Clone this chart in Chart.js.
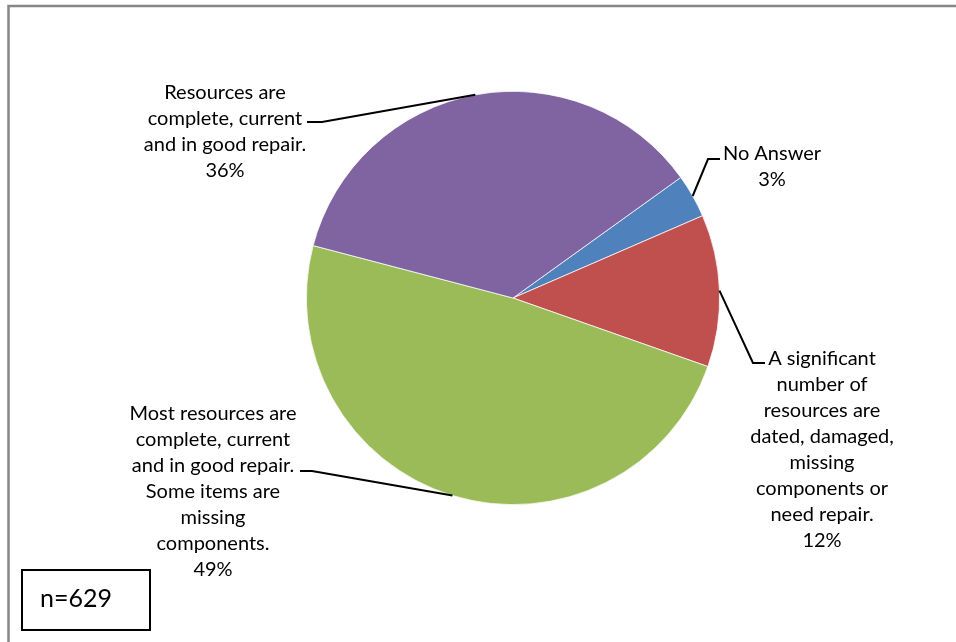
<!DOCTYPE html>
<html>
<head>
<meta charset="utf-8">
<title>Resources condition</title>
<script src="https://cdn.jsdelivr.net/npm/chart.js@4.4.1/dist/chart.umd.min.js"></script>
<style>
  html, body { margin: 0; padding: 0; background: #fff; }
  #wrap { position: relative; width: 956px; height: 642px; overflow: hidden; }
</style>
</head>
<body>
<div id="wrap"><canvas id="pie" width="956" height="642"></canvas></div>
<script>
// data
const categories = [
    ['No Answer'],
    ['A significant', 'number of', 'resources are', 'dated, damaged,', 'missing', 'components or', 'need repair.'],
    ['Most resources are', 'complete, current', 'and in good repair.', 'Some items are', 'missing', 'components.'],
    ['Resources are', 'complete, current', 'and in good repair.']
];
const values = [3.4, 11.9, 48.7, 36.0];
const percentLabels = ['3%', '12%', '49%', '36%'];
const sliceColors = ['#4F81BD', '#C0504D', '#9BBB59', '#8064A2'];
const sampleNote = 'n=629';

// where each label sits and how its leader line bends
const labelLayout = [
    { cx: 772, y: 160, elbow: [708, 159], end: [720, 159] },
    { cx: 822, y: 365, elbow: [753, 363], end: [765, 363] },
    { cx: 213, y: 420, elbow: [312, 471], end: [300, 471] },
    { cx: 225, y: 99, elbow: [322, 122], end: [307, 122] }
];
const LINE_H = 26;
const FONT = '20px Lato, "Open Sans", sans-serif';

const labelPlugin = {
    id: 'excelLabels',
    beforeDraw(chart) {
        const ctx = chart.ctx;
        ctx.save();
        // outer frame, cut off on the right and bottom
        ctx.strokeStyle = '#878787';
        ctx.lineWidth = 2.5;
        ctx.beginPath();
        ctx.moveTo(8.5, 700);
        ctx.lineTo(8.5, 6);
        ctx.lineTo(1000, 6);
        ctx.stroke();
        ctx.restore();
    },
    afterDatasetsDraw(chart) {
        const ctx = chart.ctx;
        const arcs = chart.getDatasetMeta(0).data;
        ctx.save();
        arcs.forEach((arc, i) => {
            const p = arc.getProps(['x', 'y', 'startAngle', 'endAngle', 'outerRadius'], true);
            const lay = labelLayout[i];
            const a = (p.startAngle + p.endAngle) / 2;
            const px = p.x + p.outerRadius * Math.cos(a);
            const py = p.y + p.outerRadius * Math.sin(a);

            ctx.strokeStyle = '#000';
            ctx.lineWidth = 2;
            ctx.beginPath();
            ctx.moveTo(px, py);
            ctx.lineTo(lay.elbow[0], lay.elbow[1]);
            ctx.lineTo(lay.end[0], lay.end[1]);
            ctx.stroke();

            ctx.fillStyle = '#000';
            ctx.font = FONT;
            ctx.textAlign = 'center';
            ctx.textBaseline = 'alphabetic';
            const lines = categories[i].concat([percentLabels[i]]);
            lines.forEach((t, j) => {
                ctx.fillText(t, lay.cx, lay.y + j * LINE_H);
            });
        });

        // sample size box
        ctx.lineWidth = 2;
        ctx.strokeStyle = '#000';
        ctx.strokeRect(22, 570, 128, 60);
        ctx.font = '25px Lato, "Open Sans", sans-serif';
        ctx.textAlign = 'left';
        ctx.fillText(sampleNote, 40, 607);
        ctx.restore();
    }
};

new Chart(document.getElementById('pie'), {
    type: 'pie',
    data: {
        labels: categories.map(c => c.join(' ')),
        datasets: [{
            data: values,
            backgroundColor: sliceColors,
            borderColor: '#ffffff',
            borderWidth: 0.75
        }]
    },
    options: {
        responsive: false,
        animation: false,
        rotation: 54.3,
        layout: {
            padding: { left: 306, right: 236, top: 91, bottom: 137 }
        },
        plugins: {
            legend: { display: false },
            tooltip: { enabled: false }
        }
    },
    plugins: [labelPlugin]
});
</script>
</body>
</html>
